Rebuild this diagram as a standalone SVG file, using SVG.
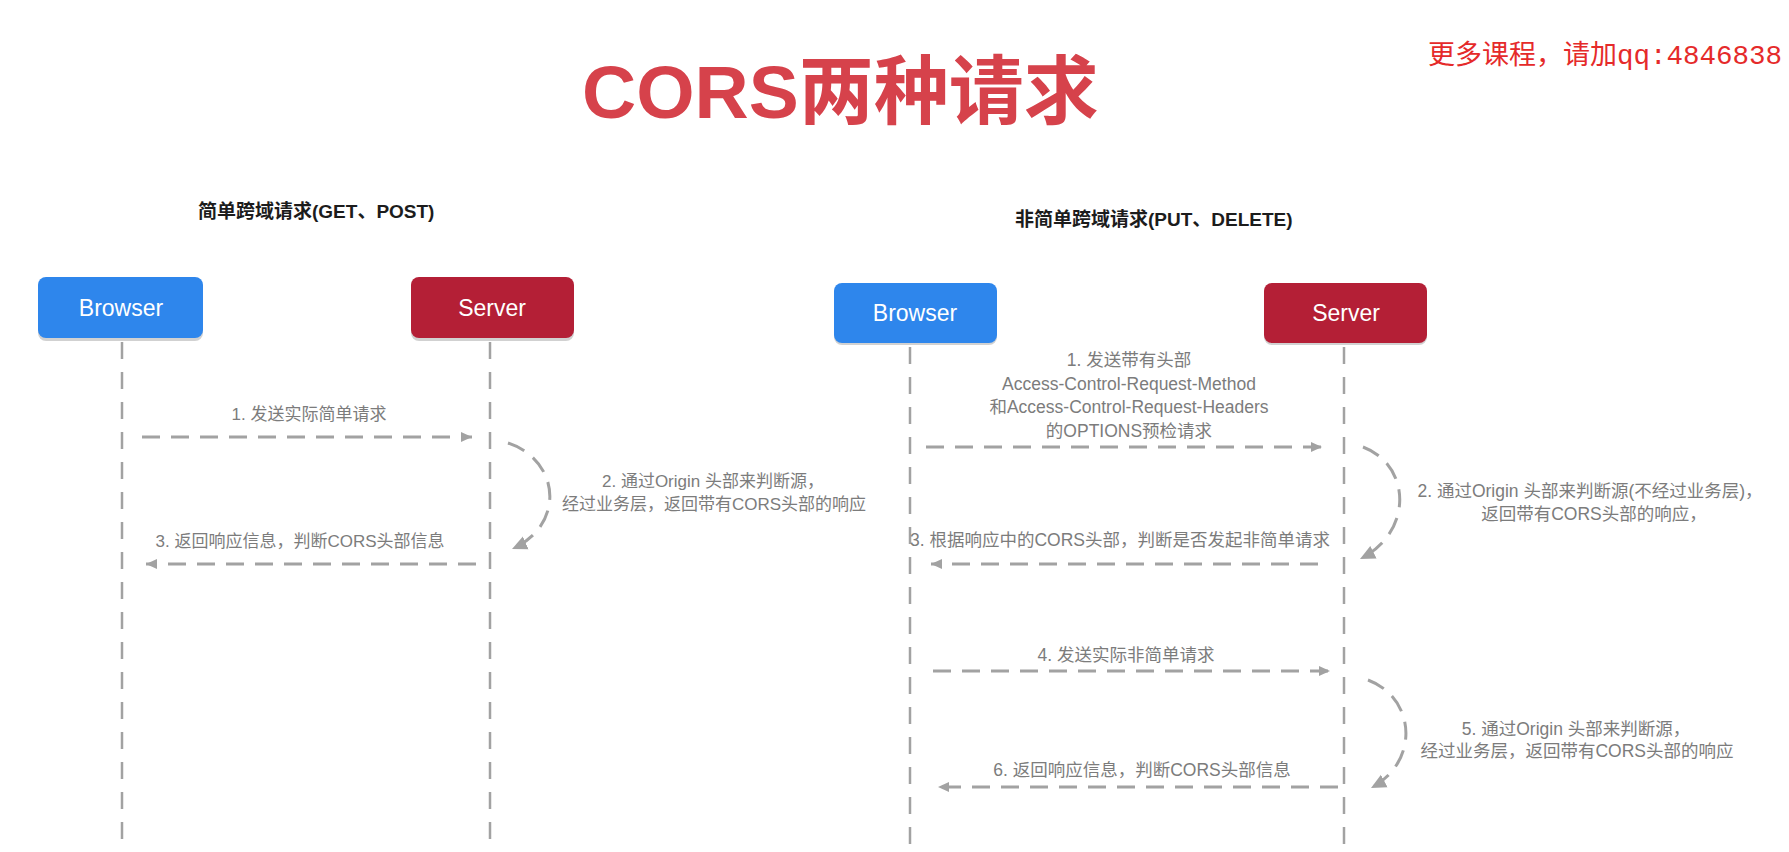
<svg xmlns="http://www.w3.org/2000/svg" width="1789" height="852" viewBox="0 0 1789 852">
  <style>
    .title { font-family: "Liberation Sans", "Noto Sans CJK SC", sans-serif; font-weight: bold; font-size: 75px; fill: #d6424b; }
    .wm { font-family: "Noto Sans CJK SC", sans-serif; font-size: 27px; fill: #e52a2a; }
    .wmlat { font-family: "Liberation Mono", monospace; font-size: 27.5px; }
    .head { font-family: "Liberation Sans", "Noto Sans CJK SC", sans-serif; font-weight: bold; font-size: 19px; fill: #1c1c1c; }
    .lbl { font-family: "Liberation Sans", "Noto Sans CJK SC", sans-serif; font-size: 17px; fill: #7c7c7c; text-anchor: middle; }
    .lblr { font-family: "Liberation Sans", "Noto Sans CJK SC", sans-serif; font-size: 17.5px; fill: #7c7c7c; text-anchor: middle; }
    .boxtxt { font-family: "Liberation Sans", "Noto Sans", sans-serif; font-size: 23px; fill: #ffffff; text-anchor: middle; }
    .browser { fill: #2e86ec; }
    .server { fill: #b41f36; }
    .shadow { fill: #000000; opacity: 0.18; }
    .life { stroke: #a2a2a2; stroke-width: 2.5; stroke-dasharray: 17 13; fill: none; }
    .msg { stroke: #a2a2a2; stroke-width: 3; stroke-dasharray: 18 11; fill: none; marker-end: url(#arrow); }
    .loop { stroke: #a2a2a2; stroke-width: 3; stroke-dasharray: 18 11; fill: none; marker-end: url(#arrowBig); }
  </style>
  <defs>
    <marker id="arrow" markerUnits="userSpaceOnUse" markerWidth="12" markerHeight="12" refX="11" refY="6" orient="auto">
      <path d="M0,1 L11,6 L0,11 z" fill="#a2a2a2"/>
    </marker>
    <marker id="arrowBig" markerUnits="userSpaceOnUse" markerWidth="16" markerHeight="16" refX="15" refY="8" orient="auto">
      <path d="M0,1 L15,8 L0,15 z" fill="#a2a2a2"/>
    </marker>
  </defs>
  <rect x="0" y="0" width="1789" height="852" fill="#ffffff"/>

  <text class="title" x="582" y="118">CORS两种请求</text>
  <text class="wm" x="1428" y="64">更多课程，请加<tspan class="wmlat">qq:4846838</tspan></text>

  <text class="head" x="198" y="218">简单跨域请求(GET、POST)</text>
  <text class="head" x="1015" y="226">非简单跨域请求(PUT、DELETE)</text>

  <g id="connectors">
    <line class="life" x1="122" y1="342" x2="122" y2="852"/>
    <line class="life" x1="490" y1="342" x2="490" y2="852"/>
    <line class="life" x1="910" y1="347" x2="910" y2="852"/>
    <line class="life" x1="1344" y1="347" x2="1344" y2="852"/>
    <line class="msg" x1="142" y1="437" x2="472" y2="437"/>
    <path class="loop" d="M508,443 C560,460 566,525 512,549"/>
    <line class="msg" x1="476" y1="564" x2="146" y2="564"/>
    <line class="msg" x1="926" y1="447" x2="1322" y2="447"/>
    <path class="loop" d="M1363,447 C1411,465 1414,532 1360,559"/>
    <line class="msg" x1="1318" y1="564" x2="931" y2="564"/>
    <line class="msg" x1="933" y1="671" x2="1330" y2="671"/>
    <path class="loop" d="M1368,680 C1416,698 1420,762 1371,788"/>
    <line class="msg" x1="1338" y1="787" x2="938" y2="787"/>
  </g>

  <g id="left-browser">
    <rect class="shadow" x="38" y="279" width="165" height="62" rx="8"/>
    <rect class="browser" x="38" y="277" width="165" height="61" rx="8"/>
    <text class="boxtxt" x="121" y="316">Browser</text>
  </g>
  <g id="left-server">
    <rect class="shadow" x="411" y="279" width="163" height="62" rx="8"/>
    <rect class="server" x="411" y="277" width="163" height="61" rx="8"/>
    <text class="boxtxt" x="492" y="316">Server</text>
  </g>
  <g id="right-browser">
    <rect class="shadow" x="834" y="285" width="163" height="60" rx="8"/>
    <rect class="browser" x="834" y="283" width="163" height="60" rx="8"/>
    <text class="boxtxt" x="915" y="321">Browser</text>
  </g>
  <g id="right-server">
    <rect class="shadow" x="1264" y="285" width="163" height="60" rx="8"/>
    <rect class="server" x="1264" y="283" width="163" height="60" rx="8"/>
    <text class="boxtxt" x="1346" y="321">Server</text>
  </g>

  <g id="labels">
    <text class="lbl" x="309" y="420">1. 发送实际简单请求</text>
    <text class="lbl" x="713" y="487">2. 通过Origin 头部来判断源，</text>
    <text class="lbl" x="714" y="510">经过业务层，返回带有CORS头部的响应</text>
    <text class="lbl" x="300" y="547">3. 返回响应信息，判断CORS头部信息</text>

    <text class="lblr" x="1129" y="366">1. 发送带有头部</text>
    <text class="lblr" x="1129" y="390">Access-Control-Request-Method</text>
    <text class="lblr" x="1129" y="413">和Access-Control-Request-Headers</text>
    <text class="lblr" x="1129" y="437">的OPTIONS预检请求</text>
    <text class="lblr" x="1590" y="497">2. 通过Origin 头部来判断源(不经过业务层)，</text>
    <text class="lblr" x="1594" y="520">返回带有CORS头部的响应，</text>
    <text class="lblr" x="1120" y="546">3. 根据响应中的CORS头部，判断是否发起非简单请求</text>
    <text class="lblr" x="1126" y="661">4. 发送实际非简单请求</text>
    <text class="lblr" x="1576" y="735">5. 通过Origin 头部来判断源，</text>
    <text class="lblr" x="1577" y="757">经过业务层，返回带有CORS头部的响应</text>
    <text class="lblr" x="1142" y="776">6. 返回响应信息，判断CORS头部信息</text>
  </g>
</svg>
